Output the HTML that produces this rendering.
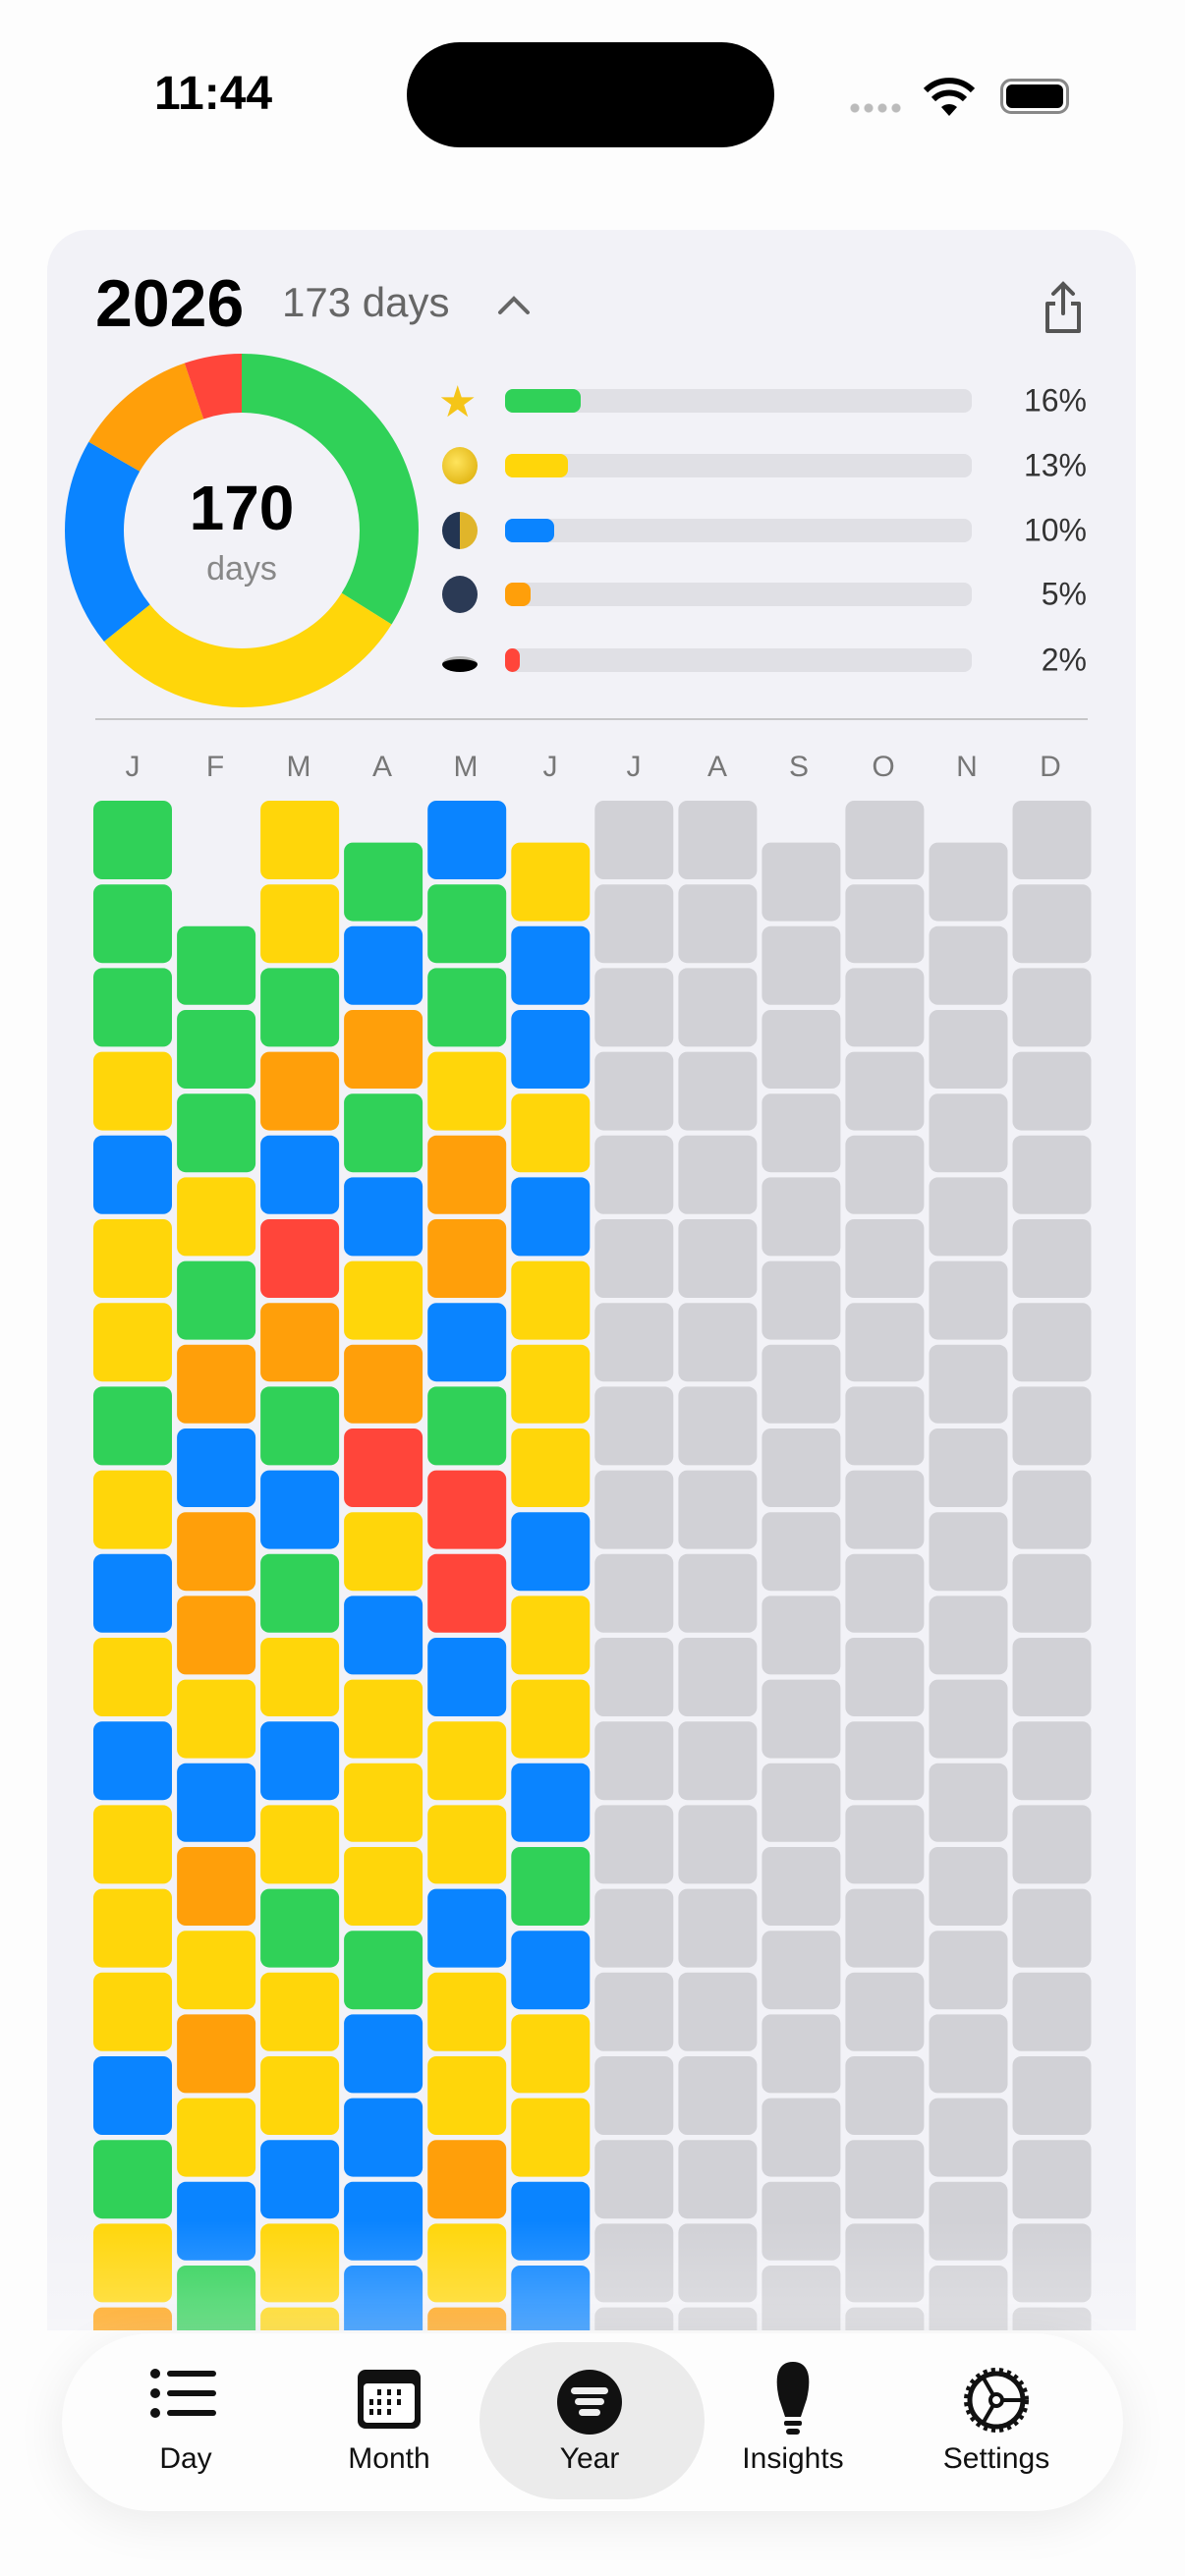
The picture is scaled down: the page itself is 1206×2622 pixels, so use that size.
<!DOCTYPE html>
<html><head><meta charset="utf-8">
<style>
*{margin:0;padding:0;box-sizing:border-box}
body{width:1206px;height:2622px;background:#fdfdfd;position:relative;overflow:hidden;font-family:"Liberation Sans",sans-serif}
.abs{position:absolute}
#card{left:48px;top:234px;width:1108px;height:2400px;background:#f2f2f7;border-radius:42px}
#clip{left:0;top:0;width:1206px;height:2372px;overflow:hidden}
.t{position:absolute;white-space:nowrap}
.bar{position:absolute;left:514px;width:475px;height:24px;border-radius:8px;background:#e0e0e5}
.bar i{position:absolute;left:0;top:0;height:24px;border-radius:8px}
.pct{position:absolute;right:100px;font-size:32px;color:#333;transform:translateY(-50%)}
.ml{position:absolute;top:764px;font-size:30px;color:#777;width:60px;text-align:center}
.nl{position:absolute;top:2486px;font-size:30px;color:#111;width:200px;text-align:center}
</style></head><body>
<div class="t" style="left:157px;top:68px;font-size:48px;font-weight:bold;color:#000">11:44</div>
<div class="abs" style="left:414px;top:43px;width:374px;height:107px;border-radius:54px;background:#000"></div>
<div class="abs" style="left:863px;top:105px;width:56px;height:10px;background:radial-gradient(circle,#bbb 4px,transparent 5px) 0 0/14px 10px repeat-x"></div>
<svg class="abs" style="left:938px;top:78px" width="56" height="42" viewBox="0 0 56 42"><path d="M28 40 L20 31 A12 12 0 0 1 36 31Z" fill="#000"/><path d="M12 23 A23 23 0 0 1 44 23" stroke="#000" stroke-width="6" fill="none"/><path d="M4 14 A34 34 0 0 1 52 14" stroke="#000" stroke-width="6" fill="none"/></svg>
<div class="abs" style="left:1018px;top:80px;width:70px;height:36px;border:3px solid #888;border-radius:11px;padding:3px"><div style="width:100%;height:100%;background:#000;border-radius:6px"></div></div>

<div id="clip" class="abs">
<div id="card" class="abs"></div>
<div class="t" style="left:97px;top:270px;font-size:68px;font-weight:bold;color:#000">2026</div>
<div class="t" style="left:287px;top:284px;font-size:42px;color:#666">173 days</div>
<svg class="abs" style="left:505px;top:298px" width="36" height="24"><path d="M4 20 L18 6 L32 20" stroke="#666" stroke-width="4" fill="none" stroke-linecap="round"/></svg>
<svg class="abs" style="left:1060px;top:285px" width="44" height="56"><path d="M22 4 V34 M12 14 L22 4 L32 14" stroke="#555" stroke-width="4" fill="none" stroke-linecap="round"/><path d="M14 24 H6 V52 H38 V24 H30" stroke="#555" stroke-width="4" fill="none" stroke-linejoin="round"/></svg>

<svg class="abs" style="left:66px;top:360px" width="360" height="360" viewBox="0 0 360 360">
<g transform="rotate(-90 180 180)" fill="none" stroke-width="60">
<circle cx="180" cy="180" r="150" stroke="#30d158" stroke-dasharray="319.4 1000"/>
<circle cx="180" cy="180" r="150" stroke="#ffd60a" stroke-dasharray="0 319.4 285.4 1000"/>
<circle cx="180" cy="180" r="150" stroke="#0a84ff" stroke-dasharray="0 604.8 180.6 1000"/>
<circle cx="180" cy="180" r="150" stroke="#ff9f0a" stroke-dasharray="0 785.4 107.3 1000"/>
<circle cx="180" cy="180" r="150" stroke="#ff453a" stroke-dasharray="0 892.7 50 1000"/>
</g></svg>
<div class="t" style="left:146px;top:480px;width:200px;text-align:center;font-size:64px;font-weight:bold;color:#000">170</div>
<div class="t" style="left:146px;top:560px;width:200px;text-align:center;font-size:34px;color:#888">days</div>

<div class="t" style="left:446px;top:384px;font-size:44px;color:#f5c518">★</div>
<div class="abs" style="left:450px;top:455px;width:36px;height:38px;border-radius:50%;background:radial-gradient(circle at 40% 40%,#ffe45c,#d9a800)"></div>
<div class="abs" style="left:450px;top:521px;width:36px;height:38px;border-radius:50%;background:linear-gradient(90deg,#233552 50%,#e0b52a 50%)"></div>
<div class="abs" style="left:450px;top:586px;width:36px;height:38px;border-radius:50%;background:#2b3a55"></div>
<div class="abs" style="left:450px;top:668px;width:36px;height:16px;border-radius:50%;background:#000;border-top:3px solid #bbb"></div>

<div class="bar" style="top:396px"><i style="width:77px;background:#30d158"></i></div>
<div class="bar" style="top:462px"><i style="width:64px;background:#ffd60a"></i></div>
<div class="bar" style="top:528px"><i style="width:50px;background:#0a84ff"></i></div>
<div class="bar" style="top:593px"><i style="width:26px;background:#ff9f0a"></i></div>
<div class="bar" style="top:660px"><i style="width:15px;background:#ff453a"></i></div>
<div class="pct" style="top:408px">16%</div>
<div class="pct" style="top:474px">13%</div>
<div class="pct" style="top:540px">10%</div>
<div class="pct" style="top:605px">5%</div>
<div class="pct" style="top:672px">2%</div>
<div class="abs" style="left:97px;top:731px;width:1010px;height:2px;background:#c6c6c8"></div>

<div class="ml" style="left:105px">J</div><div class="ml" style="left:189px">F</div><div class="ml" style="left:274px">M</div><div class="ml" style="left:359px">A</div><div class="ml" style="left:444px">M</div><div class="ml" style="left:530px">J</div><div class="ml" style="left:615px">J</div><div class="ml" style="left:700px">A</div><div class="ml" style="left:783px">S</div><div class="ml" style="left:869px">O</div><div class="ml" style="left:954px">N</div><div class="ml" style="left:1039px">D</div>

<svg id="grid" class="abs" style="left:0;top:0" width="1206" height="2372"></svg>
<div class="abs" style="left:48px;top:2260px;width:1108px;height:112px;background:linear-gradient(rgba(255,255,255,0),rgba(255,255,255,0.3))"></div>
</div>

<div class="abs" style="left:63px;top:2375px;width:1080px;height:181px;border-radius:90px;background:#fdfdfd;box-shadow:0 10px 50px rgba(0,0,0,0.08)"></div>
<div class="abs" style="left:488px;top:2384px;width:229px;height:160px;border-radius:80px;background:#ebebeb"></div>
<svg class="abs" style="left:150px;top:2408px" width="80" height="60"><g fill="#111"><circle cx="8" cy="8" r="5"/><circle cx="8" cy="28" r="5"/><circle cx="8" cy="48" r="5"/><rect x="20" y="5" width="50" height="6" rx="3"/><rect x="20" y="25" width="50" height="6" rx="3"/><rect x="20" y="45" width="50" height="6" rx="3"/></g></svg>
<svg class="abs" style="left:362px;top:2410px" width="68" height="64"><rect x="2" y="2" width="64" height="60" rx="8" fill="#111"/><rect x="8" y="16" width="52" height="40" rx="4" fill="#fff"/><g fill="#111"><rect x="22" y="22" width="4" height="6"/><rect x="32" y="22" width="4" height="6"/><rect x="42" y="22" width="4" height="6"/><rect x="14" y="32" width="4" height="6"/><rect x="22" y="32" width="4" height="6"/><rect x="32" y="32" width="4" height="6"/><rect x="42" y="32" width="4" height="6"/><rect x="14" y="42" width="4" height="6"/><rect x="22" y="42" width="4" height="6"/><rect x="32" y="42" width="4" height="6"/></g></svg>
<svg class="abs" style="left:565px;top:2410px" width="70" height="70"><circle cx="35" cy="35" r="33" fill="#111"/><g fill="#eee"><rect x="16" y="20" width="38" height="7" rx="3.5"/><rect x="20" y="31" width="30" height="7" rx="3.5"/><rect x="24" y="42" width="22" height="7" rx="3.5"/></g></svg>
<svg class="abs" style="left:785px;top:2402px" width="44" height="80"><path d="M22 2 C36 2 42 14 36 40 L30 58 H14 L8 40 C2 14 8 2 22 2Z" fill="#111"/><rect x="13" y="62" width="18" height="5" rx="2" fill="#111"/><rect x="15" y="70" width="14" height="6" rx="3" fill="#111"/></svg>
<svg class="abs" style="left:975px;top:2404px" width="78" height="78" viewBox="0 0 78 78"><circle cx="39" cy="39" r="30" fill="none" stroke="#111" stroke-width="6" stroke-dasharray="4 4"/><circle cx="39" cy="39" r="27" fill="none" stroke="#111" stroke-width="5"/><circle cx="39" cy="39" r="6" fill="none" stroke="#111" stroke-width="4"/><path d="M45 39 H66 M36 34 L25 15 M36 44 L25 63" stroke="#111" stroke-width="4"/></svg>
<div class="nl" style="left:89px">Day</div>
<div class="nl" style="left:296px">Month</div>
<div class="nl" style="left:500px">Year</div>
<div class="nl" style="left:707px">Insights</div>
<div class="nl" style="left:914px">Settings</div>

<script>
var C={G:"#30d158",Y:"#ffd60a",B:"#0a84ff",O:"#ff9f0a",R:"#ff453a"};
var cols=["GGGYBYYGYBYBYYYBGYO","GGGYGOBOOYBOYOYBG","YYGOBROGBGYBYGYYBYY","GBOGBYORYBYYYGBBBB","BGGYOOBGRRBYYBYYOYO","YBBYBYYYBYYBGBYYBB","","","","","",""];
var off=[0,3,0,1,0,1,0,0,1,0,1,0];
var s="";
for(var c=0;c<12;c++){var cx=135+c*85.05;
 for(var r=0;r<20;r++){var y=815+off[c]*42.6+r*85.2; if(y>2372)break;
  var k=cols[c][r]; var f=k?C[k]:"#d1d1d6";
  s+='<rect x="'+(cx-40).toFixed(1)+'" y="'+y.toFixed(1)+'" width="80" height="80" rx="9" fill="'+f+'"/>';}}
document.getElementById("grid").innerHTML=s;
</script>
</body></html>
